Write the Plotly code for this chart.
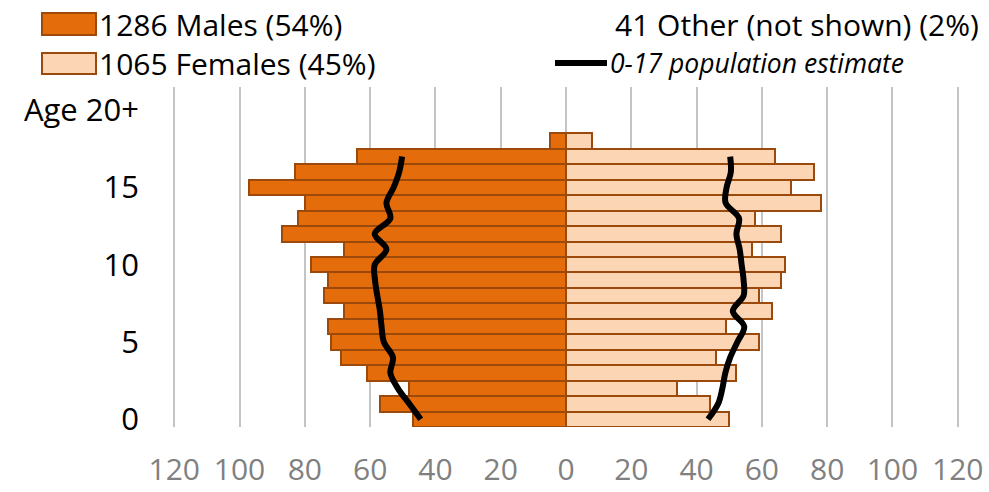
"""Population pyramid: males vs females by single year of age, with 0-17 estimates."""
import plotly.graph_objects as go

# Bars: ages 0-17, last slot (18) is the "Age 20+" group
ages = list(range(19))
males = [47, 57, 48, 61, 69, 72, 73, 68, 74, 73, 78, 68, 87, 82, 80, 97, 83, 64, 5]
females = [50, 44, 34, 52, 46, 59, 49, 63, 59, 66, 67, 57, 66, 58, 78, 69, 76, 64, 8]

# 0-17 population estimate (per single year of age)
est_ages = list(range(18))
males_est = [44.5, 48.0, 51.5, 53.8, 53.0, 55.8, 56.5, 57.0, 57.8, 58.5,
             58.6, 55.0, 58.6, 53.8, 55.0, 52.8, 51.1, 50.2]
females_est = [43.5, 46.6, 47.9, 48.8, 50.3, 52.5, 54.6, 51.1, 54.4, 54.4,
               53.8, 53.2, 52.2, 53.0, 48.9, 49.2, 50.5, 50.3]

x_ticks = list(range(-120, 121, 20))
x_ticktext = [str(abs(v)) for v in x_ticks]
y_ticks = [0, 5, 10, 15, 20]
y_ticktext = ["0", "5", "10", "15", "Age 20+"]

MALE_FILL = "#E46C0A"
FEMALE_FILL = "#FCD5B5"
EDGE = "#9C4A0C"
FONT = "Open Sans"

W, H = 989, 492
M = dict(l=171, r=28, t=87, b=65)


def px_x(px):
    return (px - M["l"]) / (W - M["l"] - M["r"])


def px_y(py):
    return (H - M["b"] - py) / (H - M["t"] - M["b"])


fig = go.Figure()
fig.add_trace(go.Bar(
    y=ages, x=[-v for v in males], orientation="h", width=1,
    marker=dict(color=MALE_FILL, line=dict(color=EDGE, width=2)),
    name="Males", customdata=males,
    hovertemplate="Age %{y}: %{customdata} males<extra></extra>",
))
fig.add_trace(go.Bar(
    y=ages, x=females, orientation="h", width=1,
    marker=dict(color=FEMALE_FILL, line=dict(color=EDGE, width=2)),
    name="Females",
    hovertemplate="Age %{y}: %{x} females<extra></extra>",
))
for est, sign in [(males_est, -1), (females_est, 1)]:
    fig.add_trace(go.Scatter(
        y=est_ages, x=[sign * v for v in est], mode="lines",
        line=dict(color="black", width=6, shape="spline", smoothing=1.0),
        name="0-17 population estimate", hoverinfo="skip",
    ))

# hand-built legend (Excel-style large swatches)
shapes = [
    dict(type="rect", xref="paper", yref="paper",
         x0=px_x(42), x1=px_x(96), y0=px_y(35), y1=px_y(13),
         fillcolor=MALE_FILL, line=dict(color=EDGE, width=2)),
    dict(type="rect", xref="paper", yref="paper",
         x0=px_x(42), x1=px_x(96), y0=px_y(74), y1=px_y(53),
         fillcolor=FEMALE_FILL, line=dict(color=EDGE, width=2)),
    dict(type="line", xref="paper", yref="paper",
         x0=px_x(555), x1=px_x(607), y0=px_y(63), y1=px_y(63),
         line=dict(color="black", width=6)),
]
legend_text = [
    ("1286 Males (54%)", 97, 24, "left", dict(size=30)),
    ("1065 Females (45%)", 97, 63, "left", dict(size=30)),
    ("41 Other (not shown) (2%)", 981, 24, "right", dict(size=30)),
    ("<i>0-17 population estimate</i>", 608, 63, "left", dict(size=26.5)),
]
annotations = [
    dict(text=t, x=px_x(x), y=px_y(y), xref="paper", yref="paper",
         xanchor=anc, yanchor="middle", showarrow=False,
         font=dict(family=FONT, color="black", **f))
    for t, x, y, anc, f in legend_text
]

fig.update_layout(
    width=W, height=H, margin=dict(**M, pad=0, autoexpand=False),
    barmode="relative", bargap=0,
    showlegend=False,
    plot_bgcolor="white", paper_bgcolor="white",
    font=dict(family=FONT, size=30, color="black"),
    shapes=shapes, annotations=annotations,
    # range padded by one unit so the +/-120 gridlines are still drawn
    xaxis=dict(range=[-121, 121], tickvals=x_ticks, ticktext=x_ticktext,
               showgrid=True, gridcolor="#C4C4C4", gridwidth=1.5,
               zeroline=False, showline=False, ticks="", automargin=False,
               tickfont=dict(color="#808080", size=30), ticklabelstandoff=22),
    yaxis=dict(range=[-0.5, 21.5], tickvals=y_ticks, ticktext=y_ticktext,
               showgrid=False, zeroline=False, showline=False, ticks="",
               automargin=False,
               tickfont=dict(color="black", size=31), ticklabelstandoff=31),
)

# the page's default 8px body margin would push the fixed-size figure off-window
fig.write_html("out.html", config={"displayModeBar": False},
               post_script="document.body.style.margin = '0';")
